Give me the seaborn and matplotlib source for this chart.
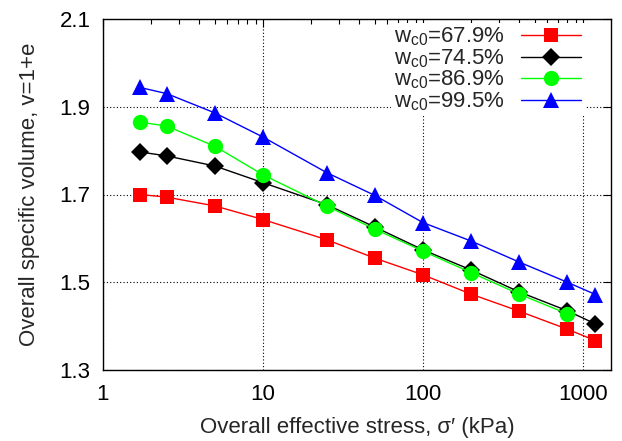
import matplotlib
matplotlib.use("Agg")
import matplotlib.pyplot as plt
import seaborn as sns
import pandas as pd
import numpy as np
from matplotlib.ticker import FixedLocator, LogLocator, NullFormatter

stress = [1.7, 2.5, 5, 10, 25, 50, 100, 200, 400, 800, 1200]
v_679 = [1.700, 1.694, 1.674, 1.643, 1.597, 1.555, 1.517, 1.473, 1.434, 1.393, 1.367]
v_745 = [1.797, 1.788, 1.765, 1.727, 1.677, 1.626, 1.574, 1.528, 1.478, 1.435, 1.405]
v_869 = [1.865, 1.856, 1.810, 1.745, 1.674, 1.621, 1.571, 1.522, 1.473, 1.428, None]
v_995 = [1.944, 1.930, 1.886, 1.831, 1.750, 1.698, 1.636, 1.594, 1.546, 1.500, 1.472]

labels = ["w$_{\\mathrm{c0}}$=67.9%", "w$_{\\mathrm{c0}}$=74.5%",
          "w$_{\\mathrm{c0}}$=86.9%", "w$_{\\mathrm{c0}}$=99.5%"]
series = [v_679, v_745, v_869, v_995]
colors = ["#ff0000", "#000000", "#00ff00", "#0000ff"]
markers = ["s", "D", "o", "^"]
msizes = [10.5, 9, 11, 11]

xticks = [1, 10, 100, 1000]
xticklabels = ["1", "10", "100", "1000"]
yticks = [1.3, 1.5, 1.7, 1.9, 2.1]

sns.set_style("white")
plt.rcParams["font.family"] = ["Liberation Sans", "DejaVu Sans"]
plt.rcParams["mathtext.fontset"] = "custom"
plt.rcParams["mathtext.rm"] = "Liberation Sans"
plt.rcParams["mathtext.it"] = "Liberation Sans"

fig = plt.figure(figsize=(6.22, 4.41), dpi=100)
ax = fig.add_axes([103/622, 71/441, 508/622, 351/441])

for lab, vals, c, m, ms in zip(labels, series, colors, markers, msizes):
    df = pd.DataFrame({"x": stress, "y": vals}).dropna()
    sns.lineplot(data=df, x="x", y="y", ax=ax, color=c, marker=m, markersize=ms,
                 markeredgewidth=0, linewidth=1.0, label=lab, zorder=3)

ax.set_xscale("log")
ax.set_xlim(1, 1500)
ax.set_ylim(1.3, 2.1)
ax.xaxis.set_major_locator(FixedLocator(xticks))
ax.set_xticklabels(xticklabels)
ax.xaxis.set_minor_locator(LogLocator(base=10, subs=np.arange(2, 10)))
ax.xaxis.set_minor_formatter(NullFormatter())
ax.set_yticks(yticks)
ax.set_yticklabels([f"{t:.1f}" for t in yticks])

ax.tick_params(which="both", direction="in", top=True, right=True, labelsize=16, colors="black")
ax.tick_params(which="major", length=6, width=0.8)
ax.tick_params(axis="x", which="major", pad=10)
ax.tick_params(axis="y", which="major", pad=9)
ax.tick_params(which="minor", length=3.5, width=0.8)
for s in ax.spines.values():
    s.set_color("black")
    s.set_linewidth(1.0)

ax.grid(True, which="major", color="black", linestyle=(0, (1, 2)), linewidth=0.8)
ax.set_axisbelow(True)

ax.set_xlabel("Overall effective stress, σ′ (kPa)", fontsize=16, labelpad=9)
ax.set_ylabel("Overall specific volume, v=1+e", fontsize=16, labelpad=14)

leg = ax.legend(loc="upper right", bbox_to_anchor=(0.948, 0.99), fontsize=16,
                frameon=True, markerfirst=False,
                handlelength=2.7, labelspacing=-0.05, borderpad=0.15,
                handletextpad=0.75, borderaxespad=0)
leg.get_frame().set_edgecolor("none")
leg.get_frame().set_facecolor("white")
leg.get_frame().set_alpha(1.0)
leg.get_frame().set_boxstyle("square", pad=0)

fig.savefig("out.png", dpi=100)
